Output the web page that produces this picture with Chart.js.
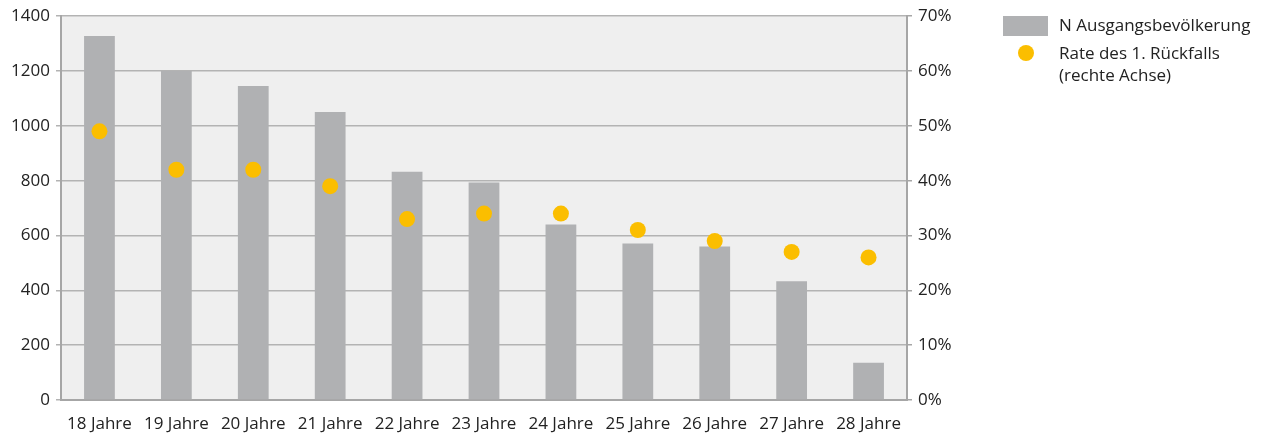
<!DOCTYPE html>
<html><head><meta charset="utf-8">
<script src="https://cdn.jsdelivr.net/npm/chart.js@4/dist/chart.umd.min.js"></script>
<style>
html,body{margin:0;padding:0;background:#fff;}
#wrap{position:relative;width:1269px;height:440px;}
canvas{position:absolute;left:0;top:0;}
.lg{position:absolute;font-family:"Open Sans",sans-serif;font-size:17px;color:#222;line-height:22px;}
</style></head>
<body>
<div id="wrap">
<canvas id="c" width="1269" height="440"></canvas>
<div class="lg" style="left:1003px;top:16px;width:45px;height:20px;background:#b0b1b3;"></div>
<div class="lg" style="left:1059px;top:14px;">N Ausgangsbevölkerung</div>
<div class="lg" style="left:1018px;top:45px;width:16px;height:16px;border-radius:50%;background:#fbbe00;"></div>
<div class="lg" style="left:1059px;top:42px;">Rate des 1. Rückfalls<br>(rechte Achse)</div>
</div>
<script>
const categories = ["18 Jahre","19 Jahre","20 Jahre","21 Jahre","22 Jahre","23 Jahre","24 Jahre","25 Jahre","26 Jahre","27 Jahre","28 Jahre"];
const population = [1328,1200,1145,1051,833,793,640,571,560,433,136];
const relapseRate = [49,42,42,39,33,34,34,31,29,27,26];
const leftTicks = [0,200,400,600,800,1000,1200,1400];
const rightTicks = [0,10,20,30,40,50,60,70];

const bgPlugin = {
  id:'bg',
  beforeDraw(chart){
    const a = chart.chartArea, ctx = chart.ctx;
    ctx.save(); ctx.fillStyle = '#efefef';
    ctx.fillRect(a.left, a.top, a.right-a.left, a.bottom-a.top);
    ctx.restore();
  }
};
const font = {family:'"Open Sans", sans-serif', size:17};
Chart.defaults.color = '#222';
new Chart(document.getElementById('c'), {
  type:'bar',
  data:{
    labels: categories,
    datasets:[
      {type:'line', label:'Rate des 1. Rückfalls (rechte Achse)', data: relapseRate, yAxisID:'yR',
       showLine:false, pointRadius:8, pointHoverRadius:8, pointBackgroundColor:'#fbbe00', pointBorderWidth:0, order:0},
      {type:'bar', label:'N Ausgangsbevölkerung', data: population, yAxisID:'yL',
       backgroundColor:'#b0b1b3', barPercentage:0.4, categoryPercentage:1.0, order:1}
    ]
  },
  options:{
    responsive:false, animation:false,
    layout:{padding:{top:15,right:302,left:0,bottom:0}},
    plugins:{legend:{display:false}, tooltip:{enabled:false}},
    scales:{
      x:{
        grid:{display:false, drawTicks:false},
        border:{color:'#a6a6a6', width:2},
        ticks:{font, padding:14, maxRotation:0, autoSkip:false},
        afterFit(s){ s.height = 40; }
      },
      yL:{
        position:'left', min:0, max:1400,
        afterBuildTicks(s){ s.ticks = leftTicks.map(v=>({value:v})); },
        grid:{color:'#b3b3b3', lineWidth:1.5, tickLength:5},
        border:{color:'#a6a6a6', width:2},
        ticks:{font, padding:6, callback:v=>String(v)},
        afterFit(s){ s.width = 61; }
      },
      yR:{
        position:'right', min:0, max:70,
        afterBuildTicks(s){ s.ticks = rightTicks.map(v=>({value:v})); },
        grid:{drawOnChartArea:false, color:'#a6a6a6', lineWidth:1.5, tickLength:5},
        border:{color:'#a6a6a6', width:2},
        ticks:{font, padding:6, callback:v=>v+'%'},
        afterFit(s){ s.width = 60; }
      }
    }
  },
  plugins:[bgPlugin]
});
</script>
</body></html>
